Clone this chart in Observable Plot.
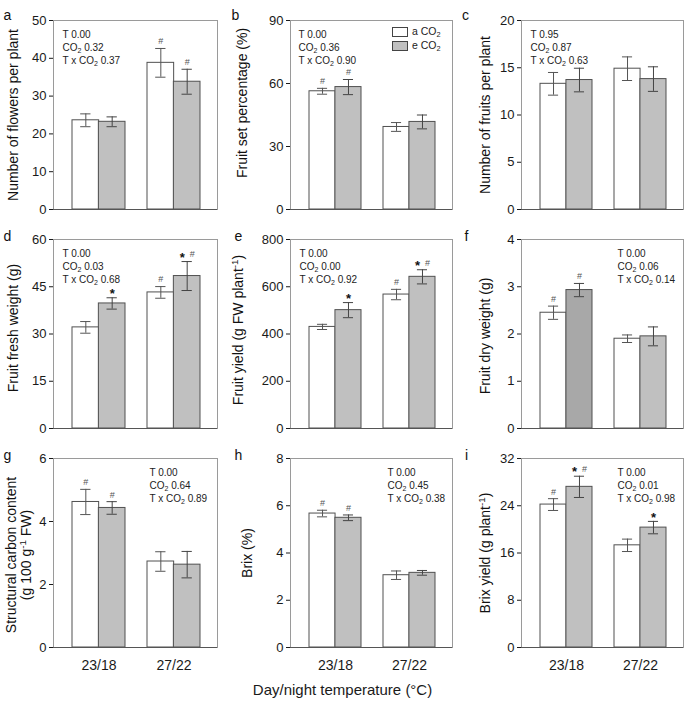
<!DOCTYPE html>
<html><head><meta charset="utf-8">
<script src="https://cdn.jsdelivr.net/npm/d3@7"></script>
<script src="https://cdn.jsdelivr.net/npm/@observablehq/plot@0.6"></script>
<style>
body{margin:0;background:#fff;}
#fig{position:relative;width:685px;height:702px;font-family:"Liberation Sans",Arial,sans-serif;color:#1a1a1a;}
#fig svg{position:absolute;}
.lg-box{position:absolute;width:14px;height:8px;border:1px solid #444;}
.lg-txt{position:absolute;font-size:10.5px;line-height:12px;color:#222;}
.xtitle{position:absolute;font-size:15px;width:685px;text-align:center;}
</style></head><body><div id="fig"></div>
<script>
// ---------- data ----------
const temps = ["23/18", "27/22"];
const statLabels = ["T", "CO2", "T x CO2"];
const legendLabels = ["a CO2", "e CO2"];
const xTitle = "Day/night temperature (°C)";

// a: number of flowers
const flowersAmb = [23.6, 38.8], flowersAmbErr = [1.7, 3.8];
const flowersElev = [23.2, 33.8], flowersElevErr = [1.3, 3.3];
const flowersAmbSig = ["", "#"], flowersElevSig = ["", "#"];
const flowersStats = ["0.00", "0.32", "0.37"];
const flowersTicks = [0, 10, 20, 30, 40, 50];

// b: fruit set percentage
const setAmb = [56.3, 39.3], setAmbErr = [1.4, 2.1];
const setElev = [58.3, 41.7], setElevErr = [3.6, 3.3];
const setAmbSig = ["#", ""], setElevSig = ["#", ""];
const setStats = ["0.00", "0.36", "0.90"];
const setTicks = [0, 30, 60, 90];

// c: number of fruits
const fruitsAmb = [13.3, 14.9], fruitsAmbErr = [1.2, 1.25];
const fruitsElev = [13.7, 13.8], fruitsElevErr = [1.25, 1.3];
const fruitsAmbSig = ["", ""], fruitsElevSig = ["", ""];
const fruitsStats = ["0.95", "0.87", "0.63"];
const fruitsTicks = [0, 5, 10, 15, 20];

// d: fruit fresh weight
const freshAmb = [32.1, 43.2], freshAmbErr = [1.85, 1.85];
const freshElev = [39.7, 48.4], freshElevErr = [1.8, 4.6];
const freshAmbSig = ["", "#"], freshElevSig = ["*", "*#"];
const freshStats = ["0.00", "0.03", "0.68"];
const freshTicks = [0, 15, 30, 45, 60];

// e: fruit yield
const yieldAmb = [430, 567], yieldAmbErr = [11, 22];
const yieldElev = [501, 642], yieldElevErr = [32, 30];
const yieldAmbSig = ["", "#"], yieldElevSig = ["*", "*#"];
const yieldStats = ["0.00", "0.00", "0.92"];
const yieldTicks = [0, 200, 400, 600, 800];

// f: fruit dry weight
const dryAmb = [2.45, 1.90], dryAmbErr = [0.14, 0.08];
const dryElev = [2.93, 1.95], dryElevErr = [0.14, 0.2];
const dryAmbSig = ["#", ""], dryElevSig = ["#", ""];
const dryStats = ["0.00", "0.06", "0.14"];
const dryTicks = [0, 1, 2, 3, 4];

// g: structural carbon content
const carbonAmb = [4.62, 2.73], carbonAmbErr = [0.4, 0.31];
const carbonElev = [4.43, 2.63], carbonElevErr = [0.2, 0.42];
const carbonAmbSig = ["#", ""], carbonElevSig = ["#", ""];
const carbonStats = ["0.00", "0.64", "0.89"];
const carbonTicks = [0, 2, 4, 6];

// h: brix
const brixAmb = [5.67, 3.06], brixAmbErr = [0.14, 0.18];
const brixElev = [5.49, 3.16], brixElevErr = [0.12, 0.1];
const brixAmbSig = ["#", ""], brixElevSig = ["#", ""];
const brixStats = ["0.00", "0.45", "0.38"];
const brixTicks = [0, 2, 4, 6, 8];

// i: brix yield
const byAmb = [24.2, 17.3], byAmbErr = [1.0, 1.05];
const byElev = [27.2, 20.3], byElevErr = [1.8, 1.05];
const byAmbSig = ["#", ""], byElevSig = ["*#", "*"];
const byStats = ["0.00", "0.01", "0.98"];
const byTicks = [0, 8, 16, 24, 32];

// colours
const ambFill = "#ffffff";
const elevFill = ["#c0c0c0", "#c0c0c0"];
const elevFillDry = ["#a8a8a8", "#c0c0c0"];

const panels = [
  {id: "a", title: ["Number of flowers per plant"], ticks: flowersTicks, a: flowersAmb, ae: flowersAmbErr, e: flowersElev, ee: flowersElevErr, as: flowersAmbSig, es: flowersElevSig, stats: flowersStats, ef: elevFill},
  {id: "b", title: ["Fruit set percentage (%)"], ticks: setTicks, a: setAmb, ae: setAmbErr, e: setElev, ee: setElevErr, as: setAmbSig, es: setElevSig, stats: setStats, ef: elevFill},
  {id: "c", title: ["Number of fruits per plant"], ticks: fruitsTicks, a: fruitsAmb, ae: fruitsAmbErr, e: fruitsElev, ee: fruitsElevErr, as: fruitsAmbSig, es: fruitsElevSig, stats: fruitsStats, ef: elevFill},
  {id: "d", title: ["Fruit fresh weight (g)"], ticks: freshTicks, a: freshAmb, ae: freshAmbErr, e: freshElev, ee: freshElevErr, as: freshAmbSig, es: freshElevSig, stats: freshStats, ef: elevFill},
  {id: "e", title: ["Fruit yield (g FW plant^-1)"], ticks: yieldTicks, a: yieldAmb, ae: yieldAmbErr, e: yieldElev, ee: yieldElevErr, as: yieldAmbSig, es: yieldElevSig, stats: yieldStats, ef: elevFill},
  {id: "f", title: ["Fruit dry weight (g)"], ticks: dryTicks, a: dryAmb, ae: dryAmbErr, e: dryElev, ee: dryElevErr, as: dryAmbSig, es: dryElevSig, stats: dryStats, ef: elevFillDry},
  {id: "g", title: ["Structural carbon content", "(g 100 g^-1 FW)"], ticks: carbonTicks, a: carbonAmb, ae: carbonAmbErr, e: carbonElev, ee: carbonElevErr, as: carbonAmbSig, es: carbonElevSig, stats: carbonStats, ef: elevFill},
  {id: "h", title: ["Brix (%)"], ticks: brixTicks, a: brixAmb, ae: brixAmbErr, e: brixElev, ee: brixElevErr, as: brixAmbSig, es: brixElevSig, stats: brixStats, ef: elevFill},
  {id: "i", title: ["Brix yield (g plant^-1)"], ticks: byTicks, a: byAmb, ae: byAmbErr, e: byElev, ee: byElevErr, as: byAmbSig, es: byElevSig, stats: byStats, ef: elevFill}
];

// ---------- layout ----------
const FONT = '"Liberation Sans", Arial, Helvetica, sans-serif';
const cols = [
  {left: 0, width: 228, ml: 53, mr: 11},
  {left: 228, width: 230, ml: 62, mr: 6},
  {left: 458, width: 227, ml: 63, mr: 2}
];
const rowsL = [
  {top: 0, height: 220, mt: 20, mb: 11},
  {top: 220, height: 220, mt: 19, mb: 12},
  {top: 440, height: 262, mt: 18, mb: 55}
];
const pl = {
  a: {tdx: [-40], tdy: 0, lx: -46, ly: -10, sx: 9},
  b: {tdx: [-48], tdy: -12, lx: -55, ly: -10, sx: 8},
  c: {tdx: [-36], tdy: 0, lx: -56, ly: -10, sx: 9},
  d: {tdx: [-40], tdy: -6, lx: -46, ly: -8, sx: 9},
  e: {tdx: [-52], tdy: -4, lx: -52, ly: -8, sx: 9},
  f: {tdx: [-36], tdy: 2, lx: -55, ly: -8, sx: 96},
  g: {tdx: [-42, -27], tdy: 2, lx: -46, ly: -8, sx: 96},
  h: {tdx: [-43], tdy: 0, lx: -52, ly: -8, sx: 97},
  i: {tdx: [-36], tdy: 0, lx: -55, ly: -8, sx: 96}
};

const fig = document.getElementById("fig");

function richText(s) {
  let out = s;
  out = out.replace(/CO2(.*)$/, (m, rest) => `CO<tspan dy="2" font-size="70%">2</tspan><tspan dy="-2">${rest}</tspan>`);
  out = out.replace(/\^-1(.*)$/, (m, rest) => `<tspan dy="-5" font-size="70%">-1</tspan><tspan dy="5">${rest}</tspan>`);
  return out;
}

panels.forEach((p, k) => {
  const c = cols[k % 3], r = rowsL[Math.floor(k / 3)], L = pl[p.id];
  const W = c.width, H = r.height;
  const fw = W - c.ml - c.mr;
  const padL = 19, padR = 17;
  const step = (fw - padL - padR) / 1.7;
  const bw = step * 0.7, half = bw / 2, q = bw / 4;
  const bottom = Math.floor(k / 3) === 2;

  const rows = temps.map((t, i) => ({
    t, a: p.a[i], ae: p.ae[i], e: p.e[i], ee: p.ee[i], as: p.as[i], es: p.es[i], ef: p.ef[i]
  }));

  const marks = [
    Plot.frame({stroke: "#9a9a9a"}),
    Plot.barY(rows, {x: "t", y: "a", fill: ambFill, stroke: "#505050", strokeWidth: 1, insetRight: half}),
    Plot.barY(rows, {x: "t", y: "e", fill: "ef", stroke: "#505050", strokeWidth: 1, insetLeft: half}),
    Plot.ruleX(rows, {x: "t", y1: d => d.a - d.ae, y2: d => d.a + d.ae, dx: -q, stroke: "#555"}),
    Plot.ruleX(rows, {x: "t", y1: d => d.e - d.ee, y2: d => d.e + d.ee, dx: q, stroke: "#444"}),
    Plot.tickY(rows, {x: "t", y: d => d.a + d.ae, insetLeft: q - 5, insetRight: bw - q - 5, stroke: "#555"}),
    Plot.tickY(rows, {x: "t", y: d => d.a - d.ae, insetLeft: q - 5, insetRight: bw - q - 5, stroke: "#555"}),
    Plot.tickY(rows, {x: "t", y: d => d.e + d.ee, insetLeft: 3 * q - 5, insetRight: q - 5, stroke: "#444"}),
    Plot.tickY(rows, {x: "t", y: d => d.e - d.ee, insetLeft: 3 * q - 5, insetRight: q - 5, stroke: "#444"}),
    Plot.ruleY([0], {stroke: "#555"})
  ];

  for (const side of ["a", "e"]) {
    const off = side === "a" ? -q : q;
    const sk = side + "s", ek = side + "e";
    const symSpec = [
      {sym: "*", shift: -5, fs: 13, dy: -4, fill: "#111", fw: "bold"},
      {sym: "#", shift: 5, fs: 9, dy: -7, fill: "#555", fw: "normal"}
    ];
    for (const s of symSpec) {
      const both = rows.filter(d => d[sk].includes("*") && d[sk].includes("#"));
      const only = rows.filter(d => d[sk] === s.sym);
      const base = {x: "t", y: d => d[side] + d[ek], text: () => s.sym, dy: s.dy, fontSize: s.fs, fill: s.fill, fontWeight: s.fw};
      marks.push(Plot.text(only, {...base, dx: off}));
      marks.push(Plot.text(both, {...base, dx: off + s.shift}));
    }
  }

  p.stats.forEach((v, i) => {
    marks.push(Plot.text([`${statLabels[i]} ${v}`], {
      frameAnchor: "top-left", textAnchor: "start", dx: L.sx, dy: 10.5 + 13 * i,
      fontSize: 10, fill: "#222"
    }));
  });

  p.title.forEach((t, i) => {
    marks.push(Plot.text([t], {frameAnchor: "left", rotate: -90, textAnchor: "middle", dx: L.tdx[i], dy: L.tdy, fontSize: 14, fill: "#111"}));
  });

  marks.push(Plot.text([p.id], {frameAnchor: "top-left", textAnchor: "middle", dx: L.lx, dy: L.ly, fontSize: 14, fill: "#111"}));

  const svg = Plot.plot({
    width: W, height: H,
    marginLeft: c.ml, marginRight: c.mr, marginTop: r.mt, marginBottom: r.mb,
    style: {fontFamily: FONT, fontSize: "13px", color: "#1a1a1a", background: "transparent", overflow: "visible"},
    x: {type: "band", domain: temps, range: [c.ml + padL, W - c.mr - padR], paddingInner: 0.3, paddingOuter: 0,
        axis: bottom ? "bottom" : null, tickSize: 0, tickPadding: 13, label: null},
    y: {domain: [0, p.ticks[p.ticks.length - 1]], ticks: p.ticks, tickSize: 4, tickPadding: 3, line: true, label: null, tickFormat: d => String(d)},
    color: {type: "identity"},
    marks
  });
  svg.style.left = c.left + "px";
  svg.style.top = r.top + "px";
  svg.style.maxWidth = "none";

  svg.querySelectorAll("text").forEach(t => {
    const s = t.textContent;
    if (s.includes("CO2") || s.includes("^-1")) t.innerHTML = richText(s);
  });
  svg.querySelectorAll('[aria-label^="x-axis"] text').forEach(t => { t.style.fontSize = "14px"; });
  fig.appendChild(svg);
});

// legend (panel b)
const legendFills = [ambFill, elevFill[0]];
legendLabels.forEach((lab, i) => {
  const box = document.createElement("div");
  box.className = "lg-box";
  box.style.left = "392px"; box.style.top = (27 + 14 * i) + "px";
  box.style.background = legendFills[i];
  fig.appendChild(box);
  const tx = document.createElement("div");
  tx.className = "lg-txt";
  tx.style.left = "412px"; tx.style.top = (25 + 14 * i) + "px";
  tx.innerHTML = lab.replace("CO2", 'CO<sub style="font-size:70%;vertical-align:-2px;line-height:0">2</sub>');
  fig.appendChild(tx);
});

const xt = document.createElement("div");
xt.className = "xtitle";
xt.style.left = "0px"; xt.style.top = "681px";
xt.textContent = xTitle;
fig.appendChild(xt);
</script></body></html>
